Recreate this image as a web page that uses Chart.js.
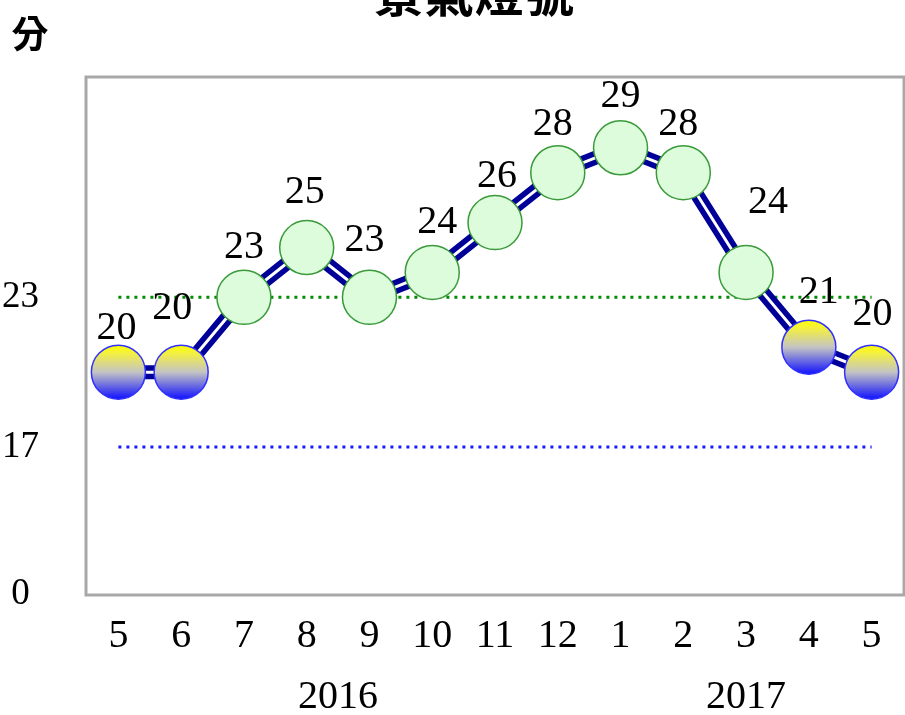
<!DOCTYPE html>
<html>
<head>
<meta charset="utf-8">
<script src="https://cdn.jsdelivr.net/npm/chart.js@4.4.0/dist/chart.umd.min.js"></script>
<style>
  html, body { margin: 0; padding: 0; background: #fff; }
</style>
</head>
<body>
<canvas id="chart" width="905" height="715"></canvas>
<script>
// 景氣燈號 2016/5 - 2017/5
const months = ['5', '6', '7', '8', '9', '10', '11', '12', '1', '2', '3', '4', '5'];
const scores = [20, 20, 23, 25, 23, 24, 26, 28, 29, 28, 24, 21, 20];
const lights = ['yb', 'yb', 'g', 'g', 'g', 'g', 'g', 'g', 'g', 'g', 'g', 'yb', 'yb'];
const greenLine = [23, 23, 23, 23, 23, 23, 23, 23, 23, 23, 23, 23, 23];
const blueLine = [17, 17, 17, 17, 17, 17, 17, 17, 17, 17, 17, 17, 17];
const yTicks = [0, 17, 23];
const yearLabels = ['2016', '2017'];
const yearAt = [3.5, 10];

// label nudges (px) so numbers sit like the original
const labelDx = [-2, -9, 0, -2, -5, 5, 2, -5, 0, -5, 22, 10, 1];
const labelDy = [-44, -64, -50, -55, -57, -50, -46, -48, -51, -48, -70, -55, -58];

const Y_MIN = 11.1;
const Y_MAX = 31.8;
const R = 27;
const serif = "'Liberation Serif', 'Times New Roman', serif";
const cjk = "'Noto Sans CJK TC', 'Noto Sans CJK SC', sans-serif";

const pointFill = (ctx) => {
  const i = ctx.dataIndex;
  if (i === undefined || lights[i] !== 'yb') return '#dcfcdc';
  const chart = ctx.chart;
  const y = chart.scales && chart.scales.y ? chart.scales.y.getPixelForValue(scores[i]) : NaN;
  if (!isFinite(y)) return '#ffff00';
  const g = chart.ctx.createLinearGradient(0, y - R, 0, y + R);
  g.addColorStop(0, '#ffff00');
  g.addColorStop(0.15, '#f4f040');
  g.addColorStop(0.5, '#c4c4c4');
  g.addColorStop(1, '#1010ff');
  return g;
};
const pointEdge = (ctx) => {
  const i = ctx.dataIndex;
  if (i === undefined) return '#339933';
  return lights[i] === 'yb' ? '#3030ff' : '#3a9a3a';
};

const extras = {
  id: 'extras',
  beforeDatasetsDraw(chart) {
    const { ctx, chartArea: a } = chart;
    ctx.save();
    ctx.strokeStyle = '#a8a8a8';
    ctx.lineWidth = 3;
    ctx.strokeRect(a.left - 1, a.top - 1, a.right - a.left + 2, a.bottom - a.top + 2);
    ctx.restore();
  },
  afterDraw(chart) {
    const { ctx } = chart;
    const meta = chart.getDatasetMeta(0);
    const x = chart.scales.x;
    ctx.save();
    ctx.fillStyle = '#000';
    ctx.textAlign = 'center';
    ctx.textBaseline = 'middle';
    ctx.font = '40px ' + serif;
    meta.data.forEach((pt, i) => {
      ctx.fillText(String(scores[i]), pt.x + labelDx[i], pt.y + labelDy[i]);
    });
    yearLabels.forEach((t, i) => {
      ctx.fillText(t, x.getPixelForValue(yearAt[i]), 697);
    });
    ctx.font = 'bold 50px ' + cjk;
    ctx.fillText('景氣燈號', 474, -7);
    ctx.font = 'bold 37px ' + cjk;
    ctx.fillText('分', 30, 34);
    ctx.restore();
  }
};

const chart = new Chart(document.getElementById('chart'), {
  type: 'line',
  data: {
    labels: months,
    datasets: [
      {
        label: 'score',
        data: scores,
        showLine: false,
        pointRadius: R,
        pointHoverRadius: R,
        pointBorderWidth: 1.5,
        pointBackgroundColor: pointFill,
        pointBorderColor: pointEdge,
        order: 0,
        clip: false
      },
      {
        label: 'inner',
        data: scores,
        borderColor: '#ffffff',
        borderWidth: 3,
        pointRadius: 0,
        tension: 0,
        order: 1,
        clip: false
      },
      {
        label: 'outer',
        data: scores,
        borderColor: '#000099',
        borderWidth: 14,
        borderJoinStyle: 'round',
        pointRadius: 0,
        tension: 0,
        order: 2,
        clip: false
      },
      {
        label: 'green',
        data: greenLine,
        borderColor: '#008a00',
        borderWidth: 3,
        borderDash: [3, 5],
        pointRadius: 0,
        order: 3
      },
      {
        label: 'blue',
        data: blueLine,
        borderColor: '#1a1aff',
        borderWidth: 3,
        borderDash: [3, 5],
        pointRadius: 0,
        order: 4
      }
    ]
  },
  options: {
    responsive: false,
    animation: false,
    events: [],
    layout: { autoPadding: false, padding: { top: 78, right: 2, left: 0, bottom: 0 } },
    plugins: {
      legend: { display: false },
      tooltip: { enabled: false },
      title: { display: false }
    },
    scales: {
      x: {
        offset: true,
        grid: { display: false, drawTicks: false },
        border: { display: false },
        ticks: { color: '#000', font: { family: serif, size: 40 }, padding: 18, maxRotation: 0, autoSkip: false },
        afterFit(scale) {
          scale.height = 121;
          scale.paddingLeft = 0;
          scale.paddingRight = 0;
        }
      },
      y: {
        min: Y_MIN,
        max: Y_MAX,
        grid: { display: false, drawTicks: false },
        border: { display: false },
        afterBuildTicks(scale) {
          scale.ticks = yTicks.map(v => ({ value: Math.max(v, Y_MIN) }));
        },
        afterFit(scale) {
          scale.width = 87;
          scale.paddingTop = 0;
          scale.paddingBottom = 0;
        },
        ticks: {
          color: '#000',
          font: { family: serif, size: 37 },
          crossAlign: 'center',
          padding: 48,
          callback: (v, i) => String(yTicks[i])
        }
      }
    }
  },
  plugins: [extras]
});
// gradients need the final pixel positions
chart.update();
</script>
</body>
</html>
